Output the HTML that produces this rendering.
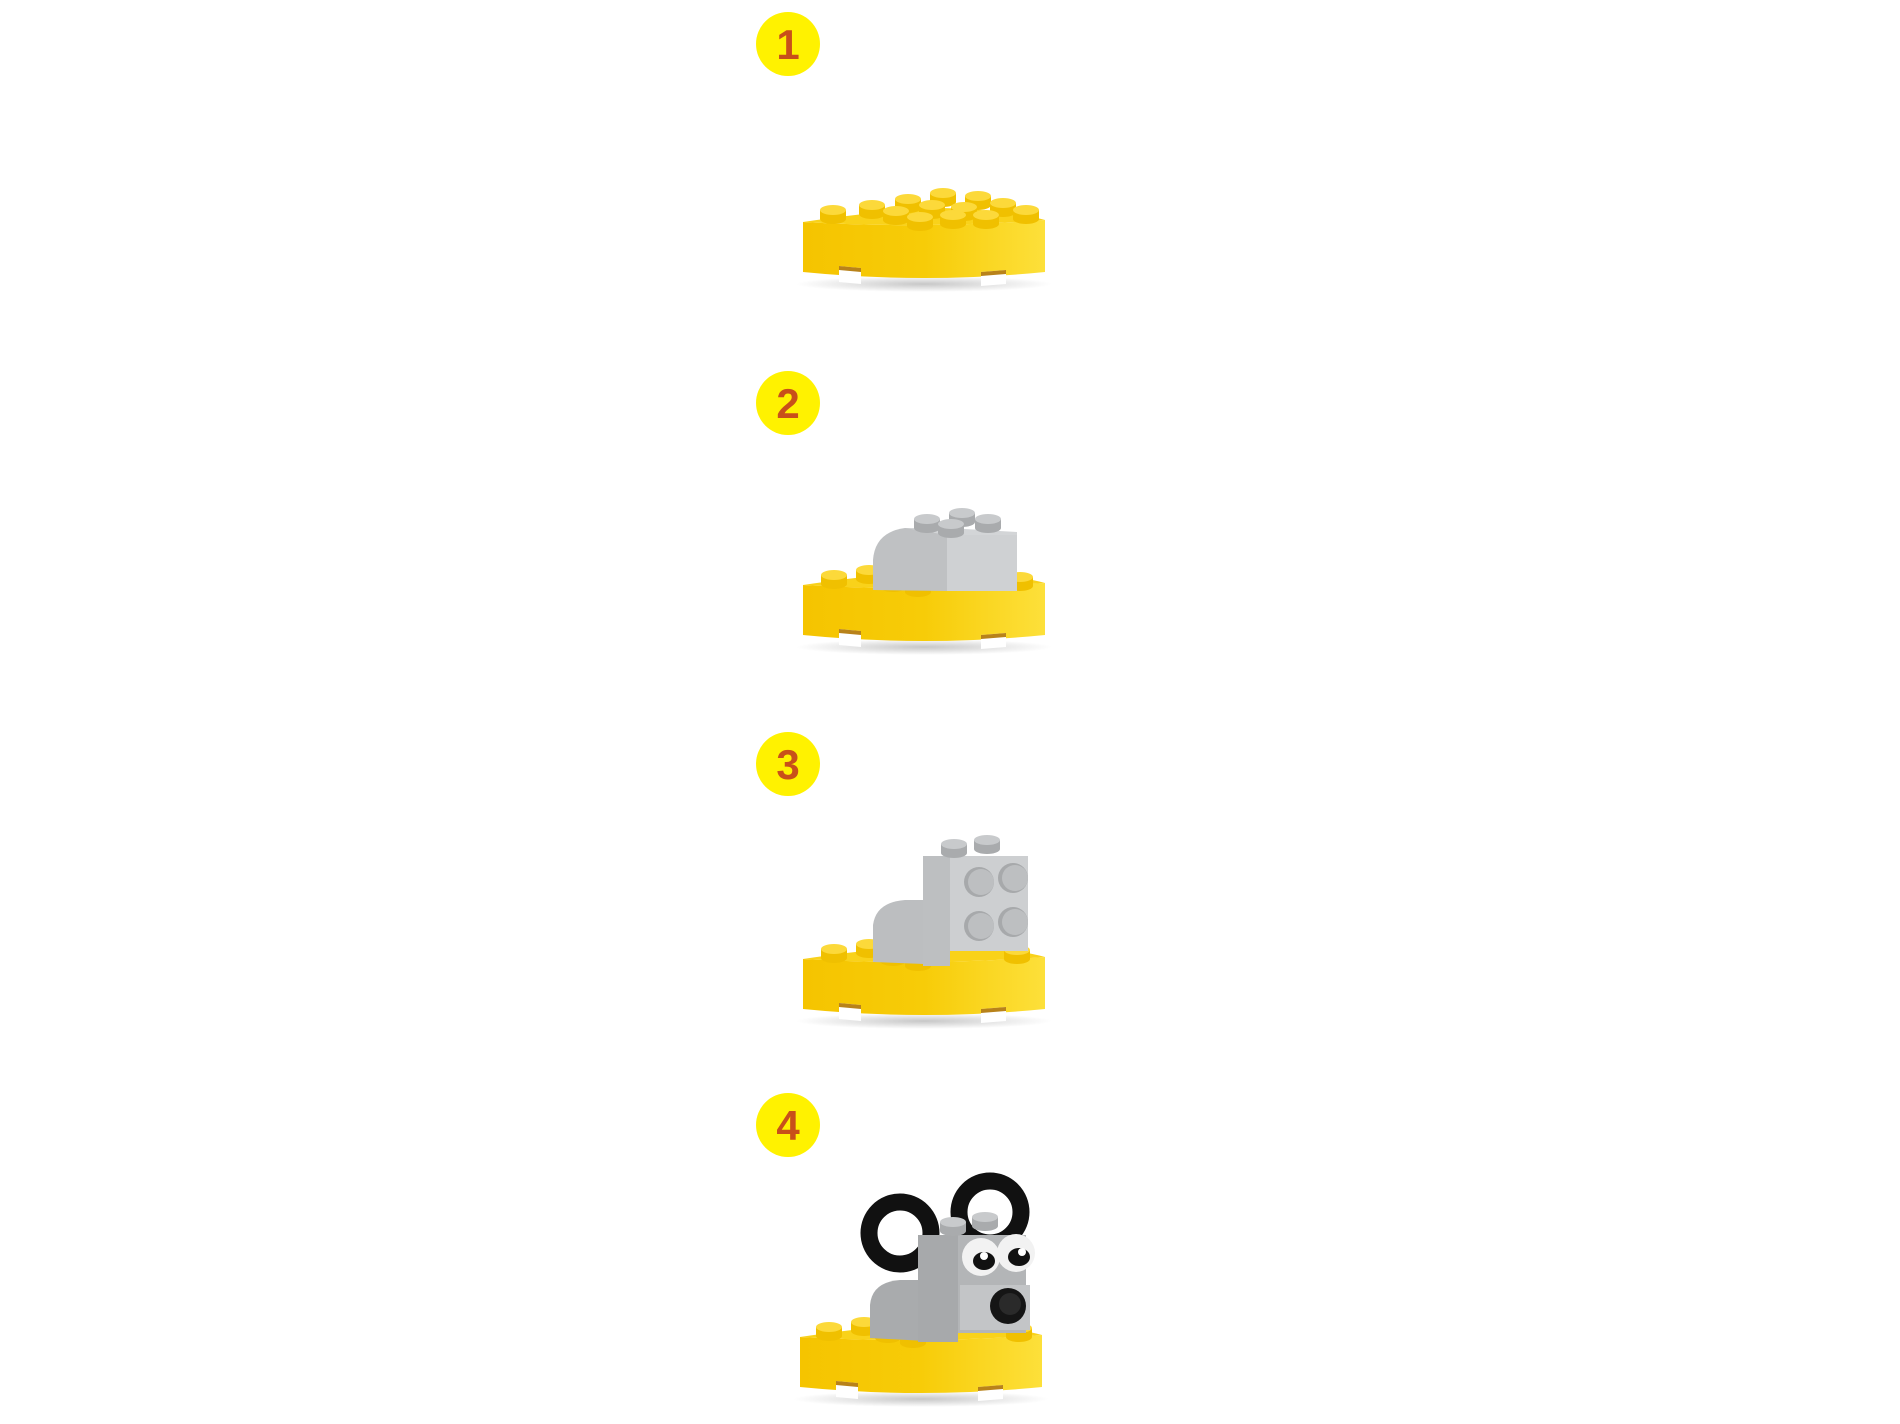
<!DOCTYPE html>
<html><head><style>html,body{margin:0;padding:0;background:#fff}svg{display:block}</style></head>
<body>
<svg width="1900" height="1424" viewBox="0 0 1900 1424" xmlns="http://www.w3.org/2000/svg">
<defs>
<linearGradient id="side" x1="0" x2="1" y1="0" y2="0">
<stop offset="0" stop-color="#f5c400"/><stop offset="0.5" stop-color="#f7cc08"/><stop offset="1" stop-color="#fde03a"/>
</linearGradient>
<radialGradient id="shadow" cx="0.5" cy="0.5" r="0.5"><stop offset="0" stop-color="#000" stop-opacity="0.22"/><stop offset="1" stop-color="#000" stop-opacity="0"/></radialGradient>
<g id="plate">
<ellipse cx="121" cy="62" rx="128" ry="8" fill="url(#shadow)"/>
<path d="M0,0 Q121,7 242,-2 L242,50 Q121,62 0,50 Z" fill="url(#side)"/>
<path d="M36,44 L36,60 L58,62 L58,46 Z M178,50 L178,64 L203,62 L203,48 Z" fill="#fff"/>
<path d="M36,44 L58,46 L58,50 L36,48 Z M178,50 L203,48 L203,52 L178,54 Z" fill="#b8821a"/>
<path d="M0,0 Q80,-12 140,-14 Q205,-12 242,-2 Q121,7 0,0 Z" fill="#f9d21a"/>
</g>
<g id="stud"><rect x="-13" y="-8" width="26" height="9" fill="#f0c000"/><ellipse cx="0" cy="1" rx="13" ry="5" fill="#f0c000"/><ellipse cx="0" cy="-8" rx="13" ry="5" fill="#fcd93a"/></g>
<g id="gstud"><rect x="-13" y="-8" width="26" height="9" fill="#a9abad"/><ellipse cx="0" cy="1" rx="13" ry="5" fill="#a9abad"/><ellipse cx="0" cy="-8" rx="13" ry="5" fill="#c8cacc"/></g>
<g id="fstud"><circle r="15" fill="#a7a9ab"/><circle r="13" cx="2" fill="#bdbfc1"/></g>
</defs>

<g font-family="Liberation Sans, sans-serif" font-weight="bold" font-size="42" fill="#c8501a" text-anchor="middle">
<circle cx="788" cy="44" r="32" fill="#fff200"/><text x="788" y="59">1</text>
<circle cx="788" cy="403" r="32" fill="#fff200"/><text x="788" y="418">2</text>
<circle cx="788" cy="764" r="32" fill="#fff200"/><text x="788" y="779">3</text>
<circle cx="788" cy="1125" r="32" fill="#fff200"/><text x="788" y="1140">4</text>
</g>

<!-- Step 1 -->
<use href="#plate" x="803" y="222"/>
<use href="#stud" x="833" y="218"/><use href="#stud" x="872" y="213"/><use href="#stud" x="908" y="207"/>
<use href="#stud" x="943" y="201"/><use href="#stud" x="978" y="204"/><use href="#stud" x="1003" y="211"/><use href="#stud" x="1026" y="218"/>
<use href="#stud" x="896" y="219"/><use href="#stud" x="932" y="213"/><use href="#stud" x="964" y="215"/><use href="#stud" x="986" y="223"/>
<use href="#stud" x="920" y="225"/><use href="#stud" x="953" y="223"/>

<!-- Step 2 -->
<use href="#plate" x="803" y="585"/>
<use href="#stud" x="834" y="583"/><use href="#stud" x="869" y="578"/><use href="#stud" x="893" y="586"/><use href="#stud" x="918" y="591"/><use href="#stud" x="1020" y="585"/>
<path d="M873,590 L873,560 Q875,532 905,528 L947,528 L947,591 Z" fill="#bfc1c3"/>
<path d="M905,528 L947,528 L1017,532 L1017,537 L947,535 Z" fill="#d3d5d7"/>
<rect x="947" y="535" width="70" height="56" fill="#cfd1d3"/>
<use href="#gstud" x="927" y="527"/><use href="#gstud" x="962" y="521"/><use href="#gstud" x="988" y="527"/><use href="#gstud" x="951" y="532"/>

<!-- Step 3 -->
<use href="#plate" x="803" y="959"/>
<use href="#stud" x="834" y="957"/><use href="#stud" x="869" y="952"/><use href="#stud" x="893" y="960"/><use href="#stud" x="918" y="965"/><use href="#stud" x="1017" y="958"/>
<path d="M873,962 L873,925 Q876,902 905,900 L950,900 L950,965 Z" fill="#bcbec0"/>
<rect x="923" y="856" width="27" height="110" fill="#bdbfc1"/>
<rect x="950" y="856" width="78" height="95" fill="#cdcfd1"/>
<use href="#fstud" x="979" y="882"/><use href="#fstud" x="1013" y="878"/><use href="#fstud" x="979" y="926"/><use href="#fstud" x="1013" y="922"/>
<use href="#gstud" x="954" y="852"/><use href="#gstud" x="987" y="848"/>

<!-- Step 4 -->
<use href="#plate" x="800" y="1337"/>
<use href="#stud" x="829" y="1335"/><use href="#stud" x="864" y="1330"/><use href="#stud" x="888" y="1337"/><use href="#stud" x="913" y="1342"/><use href="#stud" x="1019" y="1336"/>
<circle cx="900" cy="1233" r="31" fill="none" stroke="#111" stroke-width="17"/>
<circle cx="990" cy="1212" r="31" fill="none" stroke="#111" stroke-width="17"/>
<path d="M870,1338 L870,1305 Q872,1282 900,1280 L945,1280 L945,1342 Z" fill="#a9abad"/>
<rect x="918" y="1235" width="40" height="107" fill="#a7a9ab"/>
<rect x="958" y="1235" width="68" height="98" fill="#b3b5b7"/>
<rect x="960" y="1285" width="70" height="45" fill="#c3c5c7"/>
<use href="#gstud" x="953" y="1230"/><use href="#gstud" x="985" y="1225"/>
<circle cx="981" cy="1257" r="19" fill="#f2f2f2"/><circle cx="1016" cy="1253" r="19" fill="#f2f2f2"/>
<ellipse cx="984" cy="1261" rx="11" ry="9" fill="#111"/><ellipse cx="1019" cy="1257" rx="11" ry="9" fill="#111"/>
<circle cx="984" cy="1256" r="4" fill="#fff"/><circle cx="1022" cy="1252" r="4" fill="#fff"/>
<circle cx="1008" cy="1306" r="18" fill="#151515"/><circle cx="1010" cy="1304" r="11" fill="#2a2a2a"/>
</svg>
</body></html>
